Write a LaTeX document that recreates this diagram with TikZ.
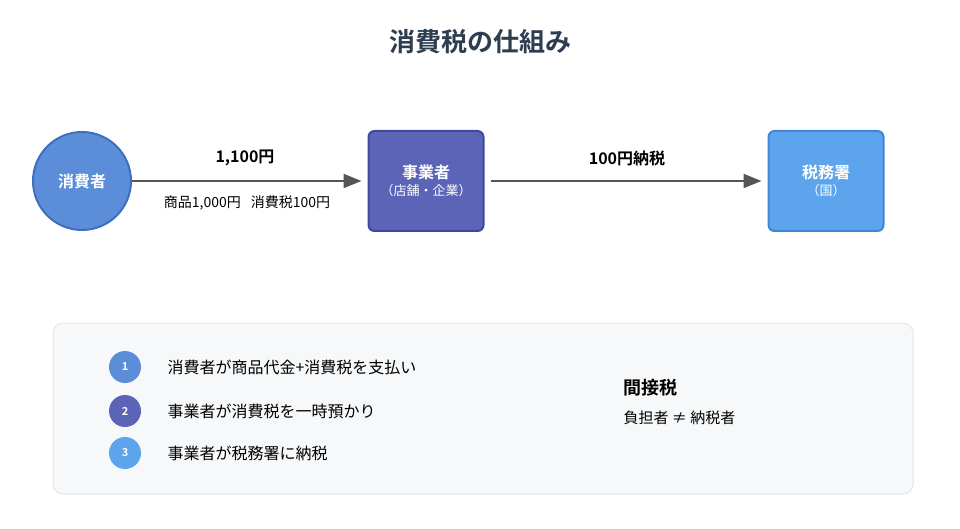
\documentclass[tikz,border=0pt]{standalone}
\usepackage{fontspec}
\setmainfont{Noto Sans CJK JP}[BoldFont={* Bold}]
\usetikzlibrary{positioning,arrows.meta}
\definecolor{titlec}{HTML}{2C3E50}
\definecolor{consc}{HTML}{5B8DD9}
\definecolor{consb}{HTML}{3F6FBF}
\definecolor{bizc}{HTML}{5C64B8}
\definecolor{bizb}{HTML}{3F47A0}
\definecolor{taxc}{HTML}{5CA4EC}
\definecolor{taxb}{HTML}{3F86D6}
\definecolor{arrc}{HTML}{555555}
\definecolor{panelc}{HTML}{F6F8FA}
\definecolor{panelb}{HTML}{E1E5EA}
\tikzset{
  actor/.style={draw, line width=2pt, text=white, font=\bfseries\fontsize{16}{19}\selectfont, align=center},
  flow/.style={draw=arrc, line width=2.2pt, -{Triangle[length=18pt,width=14pt]}, shorten >=6pt},
  num/.style={circle, minimum size=32pt, inner sep=0pt, text=white, font=\bfseries\fontsize{11}{13}\selectfont},
  itemtxt/.style={anchor=west, font=\fontsize{16}{19}\selectfont, text=black}
}
\begin{document}
\begin{tikzpicture}[x=1pt,y=-1pt]
  \useasboundingbox (0,0) rectangle (960,529);
  \node[font=\bfseries\fontsize{26}{31}\selectfont, text=titlec] (title) at (480,42) {消費税の仕組み};

  % actors
  \node[actor, circle, fill=consc, draw=consb, minimum size=98pt] (cons) at (82,181) {消費者};
  \node[actor, fill=bizc, draw=bizb, rounded corners=6pt, minimum width=115pt, minimum height=100pt] (biz) at (426,181)
    {事業者\\[-2pt]{\mdseries\fontsize{13}{15}\selectfont （店舗・企業）}};
  \node[actor, fill=taxc, draw=taxb, rounded corners=6pt, minimum width=115pt, minimum height=100pt] (tax) at (826,181)
    {税務署\\[-2pt]{\mdseries\fontsize{13}{15}\selectfont （国）}};

  % flows
  \draw[flow] (cons) -- (biz.west);
  \draw[flow, shorten <=6pt] (biz) -- (tax.west);
  \node[font=\bfseries\fontsize{16}{19}\selectfont] (pay) at (245,158) {1,100円};
  \node[font=\fontsize{14}{17}\selectfont] (payd) at (247,203) {商品1,000円\hspace{10pt}消費税100円};
  \node[font=\bfseries\fontsize{16}{19}\selectfont] (nozei) at (627,158) {100円納税};

  % panel
  \draw[fill=panelc, draw=panelb, line width=1pt, rounded corners=10pt] (53,323) rectangle (913,494);
  \node[num, fill=consc] (n1) at (125,367) {1};
  \node[num, fill=bizc] (n2) at (125,411) {2};
  \node[num, fill=taxc] (n3) at (125,453) {3};
  \node[itemtxt] (t1) at (164,367) {消費者が商品代金+消費税を支払い};
  \node[itemtxt] (t2) at (164,411) {事業者が消費税を一時預かり};
  \node[itemtxt] (t3) at (164,453) {事業者が税務署に納税};
  \node[anchor=west, font=\bfseries\fontsize{18}{21}\selectfont] (kind) at (620,388) {間接税};
  \node[anchor=west, font=\fontsize{15}{18}\selectfont] (rel) at (620,418) {負担者 ≠ 納税者};
\end{tikzpicture}
\end{document}
